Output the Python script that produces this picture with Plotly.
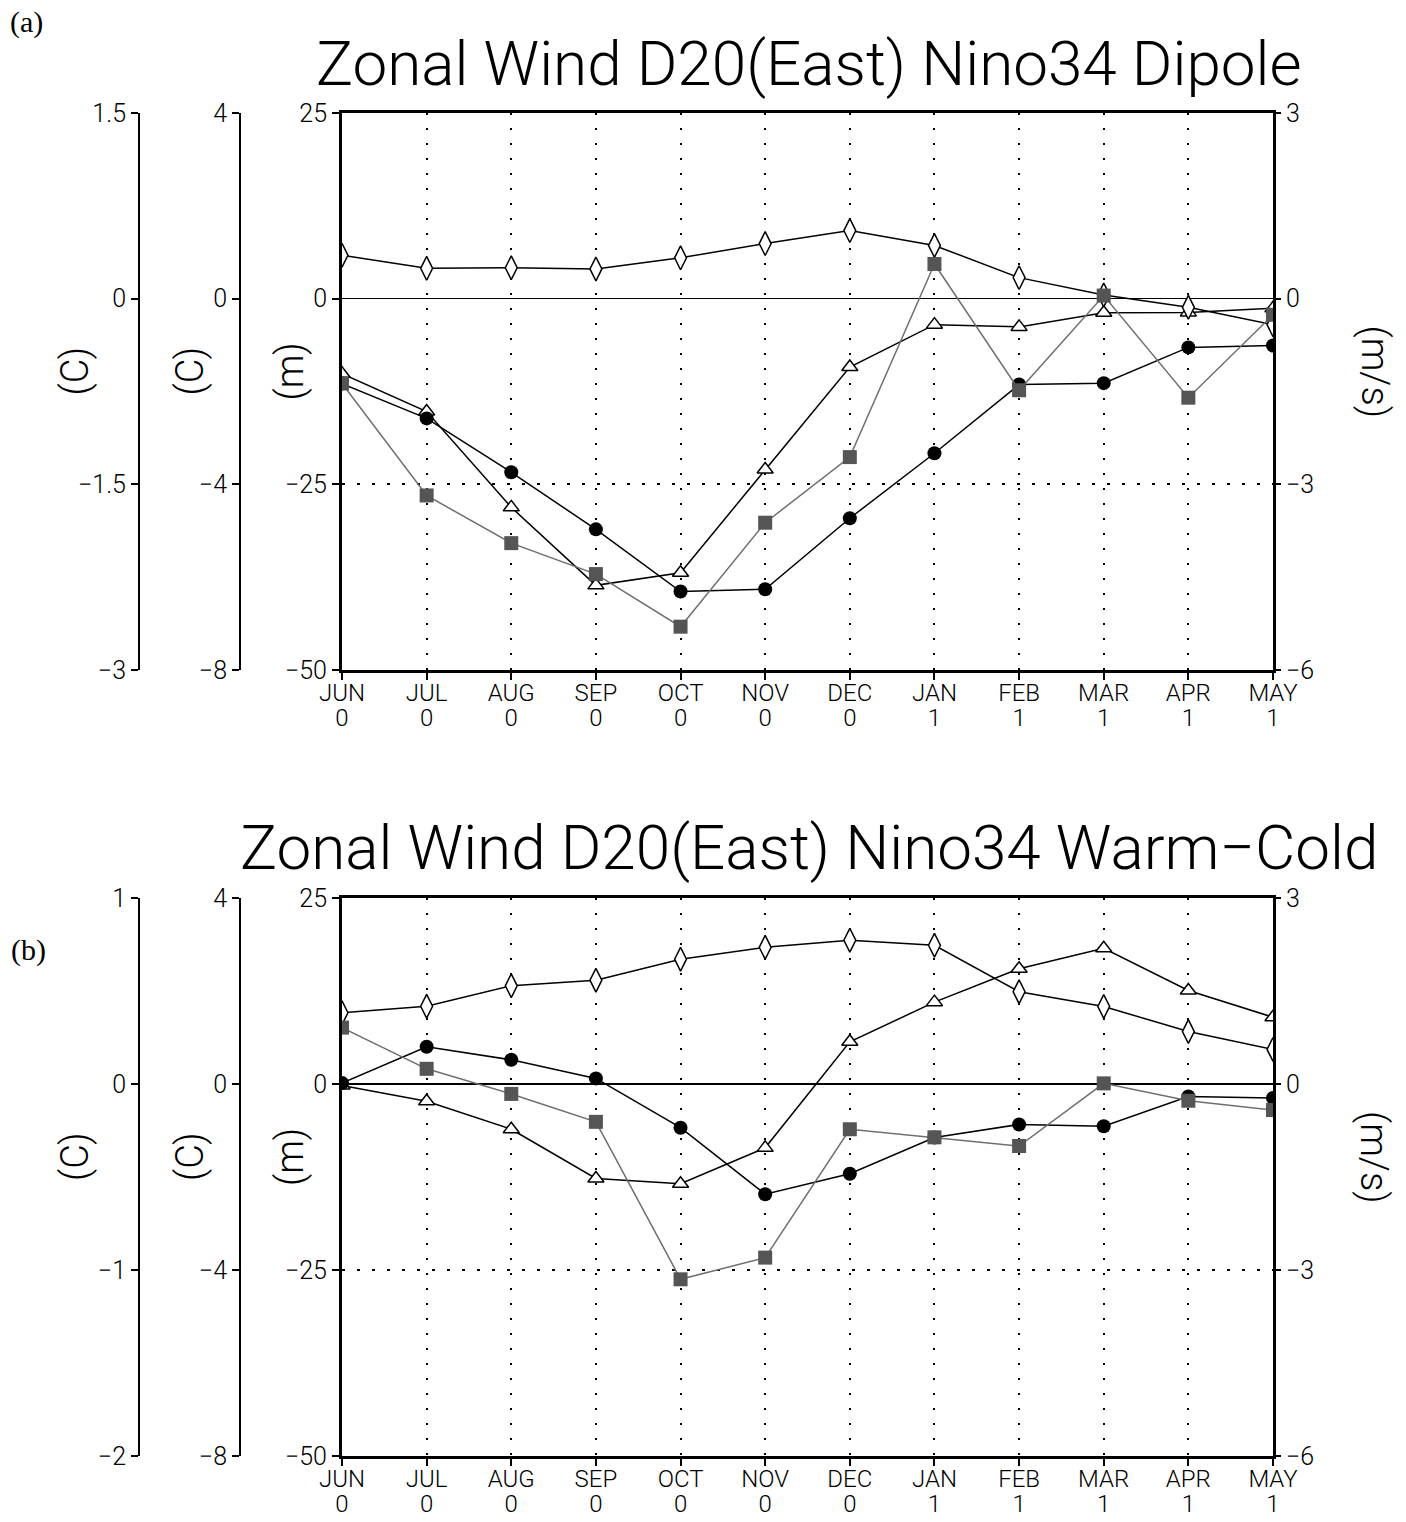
import plotly.graph_objects as go

W, H = 1406, 1522          # target picture size

# ---------------- data ----------------
months = ["JUN", "JUL", "AUG", "SEP", "OCT", "NOV", "DEC", "JAN", "FEB", "MAR", "APR", "MAY"]
years = ["0", "0", "0", "0", "0", "0", "0", "1", "1", "1", "1", "1"]
xidx = list(range(len(months)))

# Panel (a): Dipole
a_dipole_C = [0.35, 0.245, 0.25, 0.24, 0.33, 0.445, 0.55, 0.43, 0.17, 0.03, -0.07, -0.21]
a_nino34_C = [-1.83, -2.58, -3.74, -4.97, -6.31, -6.26, -4.73, -3.33, -1.85, -1.82, -1.05, -1.01]
a_d20_m = [-10.1, -15.2, -28.1, -38.6, -36.9, -23.0, -9.2, -3.5, -3.8, -1.9, -1.85, -1.3]
a_wind_ms = [-1.37, -3.18, -3.95, -4.45, -5.30, -3.62, -2.56, 0.56, -1.48, 0.05, -1.60, -0.26]

# Panel (b): Warm-Cold
b_dipole_C = [0.383, 0.418, 0.528, 0.558, 0.671, 0.735, 0.773, 0.746, 0.496, 0.417, 0.282, 0.186]
b_nino34_C = [0.02, 0.80, 0.52, 0.12, -0.94, -2.37, -1.93, -1.15, -0.87, -0.91, -0.27, -0.30]
b_d20_m = [-0.2, -2.31, -6.08, -12.7, -13.4, -8.58, 5.67, 11.0, 15.5, 18.25, 12.57, 8.98]
b_wind_ms = [0.91, 0.245, -0.16, -0.61, -3.15, -2.80, -0.73, -0.86, -1.00, 0.01, -0.27, -0.42]

# axis ranges / ticks
m_ticks = [25, 0, -25, -50]
ms_ticks = [3, 0, -3, -6]
c2_ticks = [4, 0, -4, -8]
a_c1_ticks = [1.5, 0, -1.5, -3]
b_c1_ticks = [1, 0, -1, -2]

titles = ["Zonal Wind D20(East) Nino34 Dipole", "Zonal Wind D20(East) Nino34 Warm\u2212Cold"]

FONT = "Roboto"
W_LIGHT = 300


def fmt(v):
    s = ("%g" % v)
    return s.replace("-", "\u2212")


def px_x(p):
    return p / W


def px_y(p):
    return 1 - p / H


fig = go.Figure()

panels = [
    dict(top=113, bot=670, xa="x", xy="x3", ids=["", "2", "3", "4"],
         c1=a_c1_ticks, data=(a_d20_m, a_nino34_C, a_dipole_C, a_wind_ms)),
    dict(top=898, bot=1456, xa="x2", xy="x4", ids=["5", "6", "7", "8"],
         c1=b_c1_ticks, data=(b_d20_m, b_nino34_C, b_dipole_C, b_wind_ms)),
]

XL, XR = 342, 1273
layout_axes = {}
annotations = []

tickfont = dict(family=FONT, size=25, color="black", weight=W_LIGHT)
xtickfont = dict(family=FONT, size=24, color="black", weight=W_LIGHT)


def axname(prefix, ref):
    return prefix + "axis" + ref[1:]


for pi, p in enumerate(panels):
    ydom = [px_y(p["bot"]), px_y(p["top"])]
    ym, yc2, yc1, yms = p["ids"]
    base_y = "y" + ym
    layout_axes[axname("x", p["xa"])] = dict(
        domain=[px_x(XL), px_x(XR)], anchor=base_y, range=[0, 11],
        tickvals=xidx, ticktext=months, tickfont=xtickfont,
        ticks="outside", ticklen=7, tickwidth=2, tickcolor="black",
        ticklabelstandoff=-8,
        showline=True, linewidth=3, linecolor="black", mirror=True,
        showgrid=True, gridcolor="black", gridwidth=2, griddash="2px,13px",
        zeroline=False, automargin=False,
    )
    # year row as an overlaid x axis
    layout_axes[axname("x", p["xy"])] = dict(
        overlaying=p["xa"], anchor=base_y, side="bottom", range=[0, 11],
        tickvals=xidx, ticktext=years, tickfont=xtickfont,
        ticks="", ticklabelstandoff=31, showline=False, showgrid=False,
        zeroline=False, automargin=False,
    )
    # m axis (base)
    layout_axes["yaxis" + ym] = dict(
        domain=ydom, anchor=p["xa"], range=[-50, 25],
        tickvals=m_ticks, ticktext=[fmt(v) for v in m_ticks], tickfont=tickfont,
        ticks="outside", ticklen=7, tickwidth=2, tickcolor="black",
        showline=True, linewidth=3, linecolor="black", mirror=True,
        showgrid=True, gridcolor="black", gridwidth=2, griddash="3px,12px",
        zeroline=True, zerolinecolor="black", zerolinewidth=1.5, automargin=False,
    )
    # C axis 2 (Nino34)
    layout_axes["yaxis" + yc2] = dict(
        overlaying=base_y, anchor="free", position=px_x(240), side="left",
        range=[-8, 4], tickvals=c2_ticks, ticktext=[fmt(v) for v in c2_ticks],
        tickfont=tickfont, ticks="outside", ticklen=7, tickwidth=2, tickcolor="black",
        showline=True, linewidth=2, linecolor="black", showgrid=False, zeroline=False,
        automargin=False,
    )
    # C axis 1 (Dipole)
    c1 = p["c1"]
    layout_axes["yaxis" + yc1] = dict(
        overlaying=base_y, anchor="free", position=px_x(139), side="left",
        range=[min(c1), max(c1)], tickvals=c1, ticktext=[fmt(v) for v in c1],
        tickfont=tickfont, ticks="outside", ticklen=7, tickwidth=2, tickcolor="black",
        showline=True, linewidth=2, linecolor="black", showgrid=False, zeroline=False,
        automargin=False,
    )
    # m/s axis (right)
    layout_axes["yaxis" + yms] = dict(
        overlaying=base_y, anchor=p["xa"], side="right",
        range=[-6, 3], tickvals=ms_ticks, ticktext=[fmt(v) for v in ms_ticks],
        tickfont=tickfont, ticks="outside", ticklen=7, tickwidth=2, tickcolor="black",
        showline=False, showgrid=False, zeroline=False, automargin=False,
    )

    d20, nino, dip, wind = p["data"]
    # placeholder so the year axis is drawn
    fig.add_trace(go.Scatter(
        x=xidx, y=[None] * len(xidx), xaxis=p["xy"], yaxis=base_y, mode="markers",
        showlegend=False, hoverinfo="skip"))
    # triangles - D20 (m)
    fig.add_trace(go.Scatter(
        x=xidx, y=d20, xaxis=p["xa"], yaxis=base_y, mode="lines+markers",
        line=dict(color="black", width=1.5),
        marker=dict(symbol="triangle-up", size=14, color="white",
                    line=dict(color="black", width=1.5)),
        showlegend=False, name="D20(East)"))
    # circles - Nino34 (C)
    fig.add_trace(go.Scatter(
        x=xidx, y=nino, xaxis=p["xa"], yaxis="y" + yc2, mode="lines+markers",
        line=dict(color="black", width=1.5),
        marker=dict(symbol="circle", size=14, color="black"),
        showlegend=False, name="Nino34"))
    # diamonds - Dipole (C)
    fig.add_trace(go.Scatter(
        x=xidx, y=dip, xaxis=p["xa"], yaxis="y" + yc1, mode="lines+markers",
        line=dict(color="black", width=1.5),
        marker=dict(symbol="diamond-tall", size=17, color="white",
                    line=dict(color="black", width=1.5)),
        showlegend=False, name="Dipole"))
    # squares - zonal wind (m/s)
    fig.add_trace(go.Scatter(
        x=xidx, y=wind, xaxis=p["xa"], yaxis="y" + yms, mode="lines+markers",
        line=dict(color="#6e6e6e", width=1.5),
        marker=dict(symbol="square", size=14, color="#555555"),
        showlegend=False, name="Zonal Wind"))

    # axis titles
    ymid = (p["top"] + p["bot"]) / 2 - 20
    for xp, txt in [(75, "(C)"), (190, "(C)"), (290, "(m)")]:
        annotations.append(dict(
            x=px_x(xp), y=px_y(ymid), xref="paper", yref="paper", text=txt,
            textangle=-90, showarrow=False, xanchor="center", yanchor="middle",
            font=dict(family=FONT, size=38, color="black", weight=W_LIGHT)))
    annotations.append(dict(
        x=px_x(1374), y=px_y(ymid), xref="paper", yref="paper", text="(m/s)",
        textangle=90, showarrow=False, xanchor="center", yanchor="middle",
        font=dict(family=FONT, size=38, color="black", weight=W_LIGHT)))
    # panel title
    annotations.append(dict(
        x=px_x(809), y=px_y(p["top"] - 50), xref="paper", yref="paper", text=titles[pi],
        showarrow=False, xanchor="center", yanchor="middle",
        font=dict(family=FONT, size=62, color="black", weight=W_LIGHT)))

# panel tags
annotations.append(dict(x=px_x(8), y=px_y(22), xref="paper", yref="paper", text="(a)",
                        showarrow=False, xanchor="left", yanchor="middle",
                        font=dict(family="Liberation Serif", size=30, color="black")))
annotations.append(dict(x=px_x(9), y=px_y(950), xref="paper", yref="paper", text="(b)",
                        showarrow=False, xanchor="left", yanchor="middle",
                        font=dict(family="Liberation Serif", size=30, color="black")))

fig.update_layout(
    width=W, height=H, autosize=False,
    margin=dict(l=0, r=0, t=0, b=0, pad=0, autoexpand=False),
    paper_bgcolor="white", plot_bgcolor="white",
    font=dict(family=FONT, color="black"),
    annotations=annotations,
    showlegend=False,
    hovermode=False,
    **layout_axes,
)

fig.write_html(
    "out.html",
    config={"displayModeBar": False, "staticPlot": True},
    post_script="document.body.style.margin='0px';document.body.style.overflow='hidden';",
)
